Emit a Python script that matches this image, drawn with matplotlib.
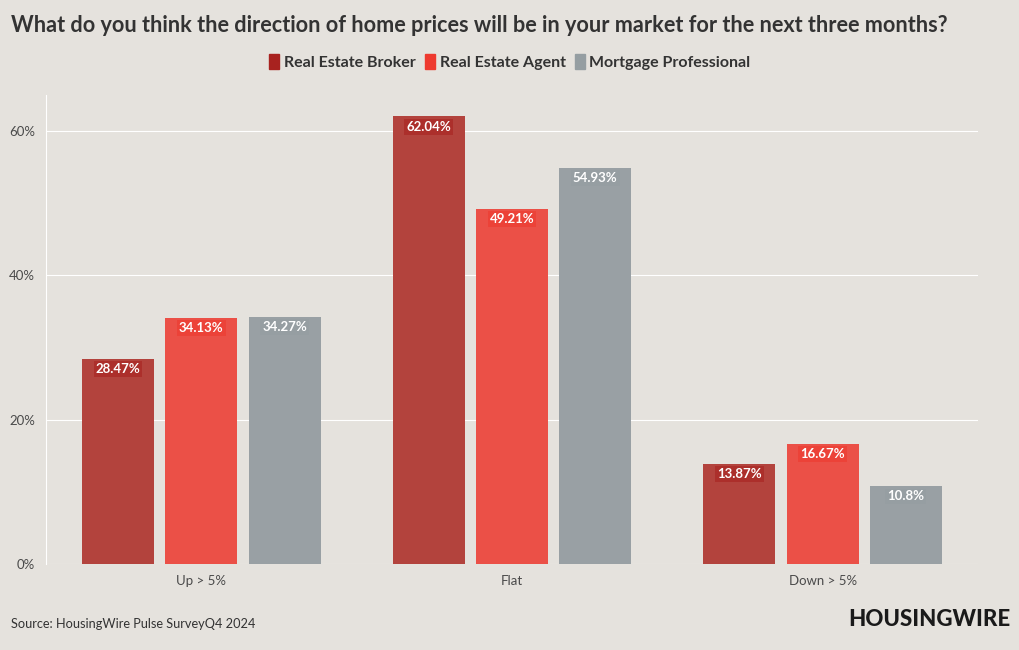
import numpy as np
import matplotlib.pyplot as plt
from matplotlib.patches import Rectangle

categories = ["Up > 5%", "Flat", "Down > 5%"]
series = ["Real Estate Broker", "Real Estate Agent", "Mortgage Professional"]
broker = [28.47, 62.04, 13.87]
agent = [34.13, 49.21, 16.67]
mortgage = [34.27, 54.93, 10.8]
labels_broker = ["28.47%", "62.04%", "13.87%"]
labels_agent = ["34.13%", "49.21%", "16.67%"]
labels_mortgage = ["34.27%", "54.93%", "10.8%"]

bar_colors = ["#b3433d", "#eb5047", "#99a0a4"]
key_colors = ["#a8221f", "#ee3a2f", "#959ea2"]
bg = "#e5e2dd"
plt.rcParams['font.family'] = ['Lato', 'DejaVu Sans']

fig = plt.figure(figsize=(10.2, 6.5), dpi=100, facecolor=bg)
ax = fig.add_axes([46/1020, 1 - 564/650, 932/1020, (564 - 95)/650])
ax.set_facecolor(bg)

x = np.arange(len(categories))
w = 0.232
off = 0.268
all_vals = [broker, agent, mortgage]
all_labels = [labels_broker, labels_agent, labels_mortgage]
for i, (vals, labs) in enumerate(zip(all_vals, all_labels)):
    xs = x + (i - 1) * off
    ax.bar(xs, vals, width=w, color=bar_colors[i], zorder=3)
    for xv, v, lab in zip(xs, vals, labs):
        ax.annotate(lab, (xv, v), xytext=(0, -7.5), textcoords="offset points",
                    ha="center", va="center", color="white", fontsize=9.5,
                    fontweight="bold", zorder=4,
                    bbox=dict(boxstyle="square,pad=0.15", fc=key_colors[i],
                              ec="none", alpha=0.6))

ax.set_xlim(-0.5, 2.5)
ax.set_ylim(0, 65)
ax.set_yticks([0, 20, 40, 60])
ax.set_yticklabels(["0%", "20%", "40%", "60%"])
ax.set_xticks(x)
ax.set_xticklabels(categories)
ax.grid(axis="y", color="white", linewidth=0.8, zorder=0)
for s in ["top", "right", "bottom"]:
    ax.spines[s].set_visible(False)
ax.spines["left"].set_color("white")
ax.spines["left"].set_linewidth(0.8)
ax.tick_params(length=0, labelsize=9.5, colors="#4a4a4a", pad=8)

fig.text(11/1020, 1 - 25/650, "What do you think the direction of home prices will be in your market for the next three months?",
         fontsize=15.6, fontweight="bold", color="#333333", va="center", ha="left")

# legend
handles = [Rectangle((0, 0), 1, 1, color=c) for c in key_colors]
fig.legend(handles, series, loc="center", bbox_to_anchor=(0.5, 1 - 62/650), ncol=3,
           frameon=False, handlelength=0.6, handleheight=1.1, handletextpad=0.3,
           columnspacing=0.6, prop=dict(size=11.5, weight="bold"),
           labelcolor="#333333")

fig.text(11/1020, 1 - 624/650, "Source: HousingWire Pulse SurveyQ4 2024",
         fontsize=9.2, color="#333333", va="center", ha="left")
fig.text(1010/1020, 1 - 620/650, "HOUSINGWIRE", fontsize=16, fontweight="black",
         color="#1a1a1a", va="center", ha="right")

fig.savefig("out.png", dpi=100, facecolor=bg)
